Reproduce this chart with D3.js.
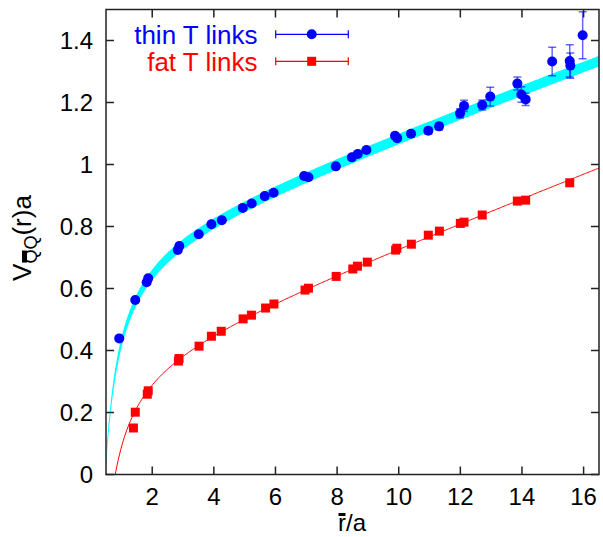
<!DOCTYPE html>
<html>
<head>
<meta charset="utf-8">
<script src="https://cdn.jsdelivr.net/npm/d3@7"></script>
<style>
  html, body { margin: 0; padding: 0; background: #fff; }
  svg { display: block; font-family: "Liberation Sans", Arial, sans-serif; }
</style>
</head>
<body>
<svg id="chart" width="603" height="537"></svg>
<script>
// ---- data ----
const thinR = [0.93,1.45,1.82,1.87,2.83,2.88,3.51,3.92,4.26,4.94,5.23,5.65,5.94,6.93,7.07,7.96,8.48,8.67,8.95,9.88,9.95,10.40,10.96,11.31,11.99,12.12,12.71,12.97,13.85,13.98,14.12,14.98,15.55,15.57,15.97];
const thinV = [0.439,0.563,0.620,0.633,0.724,0.737,0.775,0.807,0.820,0.860,0.874,0.898,0.909,0.963,0.959,0.994,1.023,1.034,1.047,1.093,1.085,1.099,1.109,1.123,1.165,1.189,1.192,1.219,1.261,1.226,1.210,1.332,1.334,1.319,1.417];
const thinErr = [0.002,0.002,0.003,0.003,0.003,0.003,0.004,0.004,0.004,0.005,0.005,0.005,0.006,0.006,0.006,0.007,0.008,0.008,0.008,0.009,0.009,0.010,0.010,0.011,0.015,0.018,0.016,0.030,0.021,0.025,0.020,0.046,0.052,0.041,0.076];

const fatR = [1.39,1.45,1.84,1.87,2.85,2.87,3.52,3.92,4.24,4.95,5.22,5.68,5.95,6.96,7.07,7.97,8.51,8.66,8.98,9.90,9.94,10.41,10.96,11.32,12.00,12.12,12.71,13.85,14.12,15.55];
const fatV = [0.150,0.201,0.259,0.270,0.366,0.374,0.414,0.446,0.462,0.502,0.514,0.537,0.550,0.595,0.601,0.639,0.663,0.672,0.685,0.724,0.730,0.743,0.772,0.785,0.810,0.814,0.837,0.882,0.885,0.941];
const fatErr = [0.003,0.003,0.003,0.003,0.003,0.003,0.003,0.003,0.003,0.003,0.003,0.003,0.003,0.003,0.003,0.003,0.003,0.003,0.003,0.003,0.003,0.003,0.003,0.003,0.003,0.003,0.003,0.004,0.004,0.005];

// fitted potentials V(r) = c + s*r - alpha/r
const thinFit = {c: 0.7551, s: 0.0364, alpha: 0.3671, halfWidth: 0.017};
const fatFit  = {c: 0.3729, s: 0.0385, alpha: 0.3230};

const xTicks = [2,4,6,8,10,12,14,16];
const yTicks = [0,0.2,0.4,0.6,0.8,1.0,1.2,1.4];
const seriesNames = ["thin T links", "fat T links"];

// ---- layout ----
const svg = d3.select("#chart");
const L = 106, R = 599, T = 9.5, B = 474.5;
const x = d3.scaleLinear().domain([0.5, 16.5]).range([L, R]);
const y = d3.scaleLinear().domain([0, 1.5]).range([B, T]);
const FONT = 24;
const TITLE_FONT = 26;

svg.append("defs").append("clipPath").attr("id","clip")
  .append("rect").attr("x", L).attr("y", T).attr("width", R-L).attr("height", B-T);

const plot = svg.append("g").attr("clip-path","url(#clip)");

const cornell = f => r => f.c + f.s*r - f.alpha/r;
const sampleR = d3.range(0, 401).map(i => 0.5 + i*16/400);

// cyan fit band
const vThin = cornell(thinFit);
plot.append("path")
  .datum(sampleR)
  .attr("fill", "#00ffff")
  .attr("d", d3.area()
    .x(r => x(r))
    .y0(r => y(vThin(r) - thinFit.halfWidth))
    .y1(r => y(vThin(r) + thinFit.halfWidth)));

// red fit line
const vFat = cornell(fatFit);
plot.append("path")
  .datum(sampleR.filter(r => vFat(r) > -0.1))
  .attr("fill", "none")
  .attr("stroke", "#ff0000")
  .attr("stroke-width", 1)
  .attr("d", d3.line().x(r => x(r)).y(r => y(vFat(r))));

// error bars
function errBars(rs, vs, es, color, opacity) {
  const g = plot.append("g").attr("stroke", color).attr("stroke-width", 1.5).attr("stroke-opacity", opacity);
  rs.forEach((r, i) => {
    const cx = x(r), y1 = y(vs[i] + es[i]), y2 = y(vs[i] - es[i]);
    g.append("line").attr("x1", cx).attr("x2", cx).attr("y1", y1).attr("y2", y2);
    g.append("line").attr("x1", cx-4).attr("x2", cx+4).attr("y1", y1).attr("y2", y1);
    g.append("line").attr("x1", cx-4).attr("x2", cx+4).attr("y1", y2).attr("y2", y2);
  });
}
errBars(fatR, fatV, fatErr, "#ff0000", 0.6);
errBars(thinR, thinV, thinErr, "#0000ff", 0.6);

// markers
plot.append("g").selectAll("rect").data(fatR).join("rect")
  .attr("x", (r) => x(r) - 4.5)
  .attr("y", (r, i) => y(fatV[i]) - 4.5)
  .attr("width", 9).attr("height", 9)
  .attr("fill", "#ff0000");

plot.append("g").selectAll("circle").data(thinR).join("circle")
  .attr("cx", r => x(r))
  .attr("cy", (r, i) => y(thinV[i]))
  .attr("r", 5)
  .attr("fill", "#0000ff");

// ---- frame & ticks (gnuplot style, inward, mirrored) ----
const axisCol = "#222";
const tickLen = 8;
const fr = svg.append("g").attr("stroke", axisCol).attr("stroke-width", 1.5);
xTicks.forEach(t => {
  fr.append("line").attr("x1", x(t)).attr("x2", x(t)).attr("y1", B).attr("y2", B - tickLen);
  fr.append("line").attr("x1", x(t)).attr("x2", x(t)).attr("y1", T).attr("y2", T + tickLen);
});
yTicks.forEach(t => {
  fr.append("line").attr("x1", L).attr("x2", L + tickLen).attr("y1", y(t)).attr("y2", y(t));
  fr.append("line").attr("x1", R).attr("x2", R - tickLen).attr("y1", y(t)).attr("y2", y(t));
});
svg.append("rect").attr("x", L).attr("y", T).attr("width", R-L).attr("height", B-T)
  .attr("fill", "none").attr("stroke", axisCol).attr("stroke-width", 1.5);

// tick labels
const fmtY = d3.format("~g");
svg.append("g").selectAll("text").data(xTicks).join("text")
  .attr("x", d => x(d)).attr("y", B + 30)
  .attr("text-anchor", "middle").attr("font-size", FONT).attr("fill", "#000")
  .text(d => d);
svg.append("g").selectAll("text").data(yTicks).join("text")
  .attr("x", L - 13).attr("y", d => y(d) + 8.5)
  .attr("text-anchor", "end").attr("font-size", FONT).attr("fill", "#000")
  .text(d => fmtY(d));

// ---- axis titles ----
const xl = svg.append("text")
  .attr("x", 352).attr("y", 531)
  .attr("text-anchor", "middle").attr("font-size", 24).attr("fill", "#000")
  .text("r/a");
{
  const ext = xl.node().getExtentOfChar(0);
  svg.append("rect").attr("x", ext.x + 0.5).attr("y", ext.y + 4)
    .attr("width", ext.width - 1).attr("height", 3).attr("fill", "#000");
}

const yg = svg.append("g").attr("transform", "translate(31,238) rotate(-90)");
const yl = yg.append("text").attr("text-anchor", "middle").attr("font-size", TITLE_FONT).attr("fill", "#000");
yl.append("tspan").text("V");
yl.append("tspan").attr("font-size", 18).attr("dy", 6).text("QQ");
yl.append("tspan").attr("dy", -6).text("(r)a");
{
  const ext = yl.node().getExtentOfChar(1);
  yg.append("rect").attr("x", ext.x + 1).attr("y", ext.y + 1)
    .attr("width", ext.width - 2).attr("height", 5).attr("fill", "#000");
}

// ---- legend ----
const legend = [
  {name: seriesNames[0], color: "#0000ff", y: 34.3, marker: "circle"},
  {name: seriesNames[1], color: "#ff0000", y: 61.3, marker: "square"}
];
const lx1 = 275.7, lx2 = 348.3, lmx = 311.7;
legend.forEach(d => {
  svg.append("text").attr("x", 257.5).attr("y", d.y + 9.5)
    .attr("text-anchor", "end").attr("font-size", TITLE_FONT).attr("fill", d.color).text(d.name);
  const g = svg.append("g").attr("stroke", d.color).attr("stroke-width", 1.2);
  g.append("line").attr("x1", lx1).attr("x2", lx2).attr("y1", d.y).attr("y2", d.y);
  g.append("line").attr("x1", lx1).attr("x2", lx1).attr("y1", d.y - 4).attr("y2", d.y + 4);
  g.append("line").attr("x1", lx2).attr("x2", lx2).attr("y1", d.y - 4).attr("y2", d.y + 4);
  if (d.marker === "circle") {
    svg.append("circle").attr("cx", lmx).attr("cy", d.y).attr("r", 5).attr("fill", d.color);
  } else {
    svg.append("rect").attr("x", lmx - 4.5).attr("y", d.y - 4.5).attr("width", 9).attr("height", 9).attr("fill", d.color);
  }
});
</script>
</body>
</html>
